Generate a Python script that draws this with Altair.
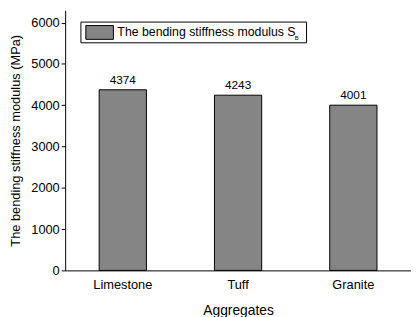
import altair as alt
import pandas as pd

categories = ["Limestone", "Tuff", "Granite"]
values = [4374, 4243, 4001]
series_name = "The bending stiffness modulus S"
series_sub = "B"

df = pd.DataFrame({"Aggregate": categories, "Value": values})
leg = pd.DataFrame({"name": [series_name], "sub": [series_sub]})

FONT = "Liberation Sans"
FILL = "#858585"

base = alt.Chart(df)

x = alt.X("Aggregate:N", sort=categories,
          scale=alt.Scale(paddingInner=0.59, paddingOuter=0.295),
          axis=alt.Axis(title="Aggregates", labelAngle=0, ticks=False, labelPadding=8,
                        labelFontSize=13, titleFontSize=14, titlePadding=13,
                        labelFont=FONT, titleFont=FONT, titleFontWeight="normal",
                        labelColor="black", titleColor="black", domainColor="black"))

y = alt.Y("Value:Q", scale=alt.Scale(domain=[0, 6300], nice=False),
          axis=alt.Axis(title="The bending stiffness modulus (MPa)", grid=False,
                        values=list(range(0, 6001, 500)),
                        labelExpr="datum.value % 1000 == 0 ? datum.label : ''",
                        tickSize={"condition": {"test": "datum.value % 1000 == 0", "value": 4}, "value": 2},
                        format="d",
                        labelFontSize=13, titleFontSize=13, labelPadding=2, titlePadding=8,
                        labelFont=FONT, titleFont=FONT, titleFontWeight="normal",
                        labelColor="black", titleColor="black", domainColor="black",
                        tickColor="black"))

bars = base.mark_bar(stroke="black", strokeWidth=1, fill=FILL).encode(x=x, y=y)

labels = base.mark_text(dy=-3, baseline="bottom", fontSize=12, font=FONT, color="black").encode(
    x=alt.X("Aggregate:N", sort=categories), y="Value:Q", text="Value:Q")

lbase = alt.Chart(leg)
frame = lbase.mark_rect(fill="white", stroke="black", strokeWidth=1).encode(
    x=alt.value(16), x2=alt.value(245), y=alt.value(12), y2=alt.value(33))
swatch = lbase.mark_rect(fill=FILL, stroke="black", strokeWidth=1).encode(
    x=alt.value(21), x2=alt.value(49), y=alt.value(15.5), y2=alt.value(29.5))
ltext = lbase.mark_text(align="left", baseline="middle", fontSize=12.5, font=FONT, color="black").encode(
    x=alt.value(53), y=alt.value(22.5), text="name:N")
lsub = lbase.mark_text(align="left", baseline="middle", fontSize=6, font=FONT, color="black").encode(
    x=alt.value(233), y=alt.value(28), text="sub:N")

chart = alt.layer(bars, labels, frame, swatch, ltext, lsub).properties(
    width=351, height=264,
    padding={"left": 58, "top": 0, "right": 0, "bottom": 45},
    autosize=alt.AutoSizeParams(type="none")
).configure_view(stroke=None)

chart.save("out.html", embed_options={"renderer": "svg", "actions": False})
